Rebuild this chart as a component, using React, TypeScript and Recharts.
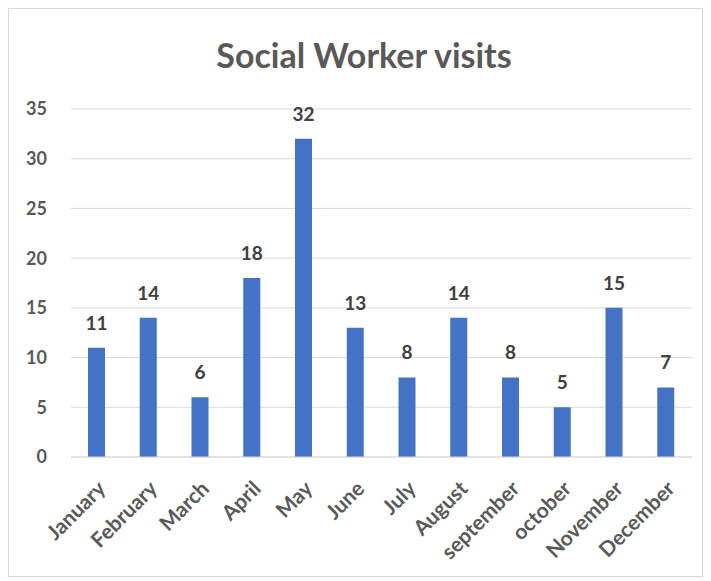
import React from 'react';
import { BarChart, Bar, XAxis, YAxis, CartesianGrid, LabelList } from 'recharts';

const months = [
  'January', 'February', 'March', 'April', 'May', 'June',
  'July', 'August', 'september', 'october', 'November', 'December',
];
const visits = [11, 14, 6, 18, 32, 13, 8, 14, 8, 5, 15, 7];
const yTicks = [0, 5, 10, 15, 20, 25, 30, 35];

const data = months.map((m, i) => ({ month: m, visits: visits[i] }));

const FONT = 'Lato, "Open Sans", sans-serif';

const MonthTick = (props: any) => {
  const { x, y, payload } = props;
  return (
    <g transform={`translate(${x + 10},${y + 25})`}>
      <text
        x={0}
        y={0}
        textAnchor="end"
        transform="rotate(-45)"
        fill="#595959"
        fontSize={21}
        fontWeight={700}
        fontFamily={FONT}
      >
        {payload.value}
      </text>
    </g>
  );
};

export default function App() {
  return (
    <div
      style={{
        position: 'relative',
        width: 693,
        height: 567,
        border: '1px solid #d9d9d9',
        background: '#fff',
        fontFamily: FONT,
      }}
    >
      <div
        style={{
          position: 'absolute',
          top: 26,
          left: 0,
          width: 710,
          textAlign: 'center',
          fontSize: 34,
          fontWeight: 700,
          color: '#595959',
          lineHeight: '40px',
        }}
      >
        Social Worker visits
      </div>
      <BarChart
        width={693}
        height={567}
        data={data}
        margin={{ top: 100, right: 10, bottom: 0, left: 0 }}
      >
        <CartesianGrid stroke="#d9d9d9" vertical={false} />
        <XAxis
          dataKey="month"
          interval={0}
          height={119}
          tickLine={false}
          axisLine={{ stroke: '#d9d9d9' }}
          tick={<MonthTick />}
        />
        <YAxis
          width={62}
          domain={[0, 35]}
          ticks={yTicks}
          axisLine={false}
          tickLine={false}
          tickMargin={18}
          tick={{ fill: '#595959', fontSize: 18, fontWeight: 700, fontFamily: FONT }}
        />
        <Bar dataKey="visits" fill="#4472C4" barSize={17} isAnimationActive={false}>
          <LabelList
            dataKey="visits"
            position="top"
            offset={18}
            fill="#404040"
            fontSize={19}
            fontWeight={700}
            fontFamily={FONT}
          />
        </Bar>
      </BarChart>
    </div>
  );
}
